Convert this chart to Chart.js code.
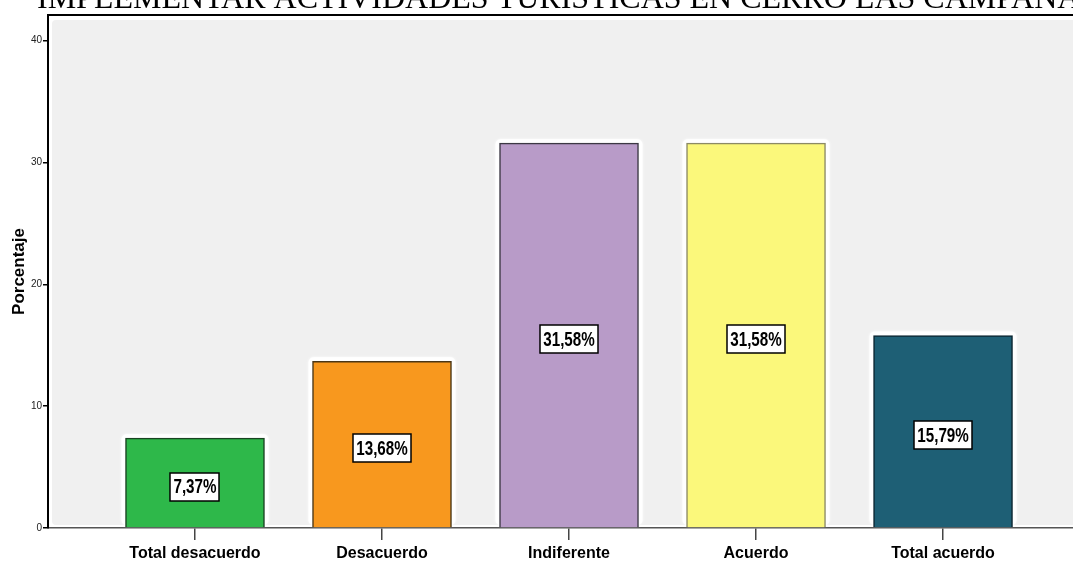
<!DOCTYPE html>
<html>
<head>
<meta charset="utf-8">
<script src="https://cdn.jsdelivr.net/npm/chart.js@4/dist/chart.umd.min.js"></script>
<style>
  html, body { margin: 0; padding: 0; background: #fff; overflow: hidden; }
  #wrap { width: 1073px; height: 561px; position: relative; }
</style>
</head>
<body>
<div id="wrap"><canvas id="chart" width="1073" height="561"></canvas></div>
<script>
const categories = ["Total desacuerdo", "Desacuerdo", "Indiferente", "Acuerdo", "Total acuerdo"];
const percentages = [7.37, 13.68, 31.58, 31.58, 15.79];
const valueLabels = ["7,37%", "13,68%", "31,58%", "31,58%", "15,79%"];
const barColors = ["#2eb84a", "#f8981e", "#b89bc8", "#fbf87b", "#1e5f75"];
const barBorders = ["#1a4322", "#4a3616", "#3c3844", "#8c8a66", "#0b2530"];
const yTicks = [0, 10, 20, 30, 40];
const titleText = "IMPLEMENTAR ACTIVIDADES TURISTICAS EN CERRO LAS CAMPANAS";

const sans = "'Liberation Sans', Arial, sans-serif";

// SPSS style frame: grey plot area, black top line, white halos around bars
const framePlugin = {
  id: "frame",
  beforeDraw(chart) {
    const { ctx, chartArea: a } = chart;
    ctx.save();
    ctx.fillStyle = "#ffffff";
    ctx.fillRect(0, 0, chart.width, chart.height);
    ctx.fillStyle = "#f0f0f0";
    ctx.beginPath();
    ctx.roundRect(a.left + 4, a.top + 5, a.right - a.left, a.bottom - a.top - 8, 4);
    ctx.fill();
    ctx.strokeStyle = "#000";
    ctx.lineWidth = 2;
    ctx.beginPath();
    ctx.moveTo(a.left - 1, a.top);
    ctx.lineTo(a.right, a.top);
    ctx.stroke();
    ctx.restore();
  },
  beforeDatasetsDraw(chart) {
    const { ctx } = chart;
    ctx.save();
    ctx.fillStyle = "#ffffff";
    ctx.shadowColor = "rgba(255,255,255,0.9)";
    ctx.shadowBlur = 3;
    chart.getDatasetMeta(0).data.forEach(bar => {
      const w = bar.width;
      ctx.beginPath();
      ctx.roundRect(bar.x - w / 2 - 4, bar.y - 4, w + 8, bar.base - bar.y + 2, 5);
      ctx.fill();
    });
    ctx.restore();
  },
  afterDatasetsDraw(chart) {
    const { ctx } = chart;
    ctx.save();
    ctx.font = "bold 19px " + sans;
    ctx.textBaseline = "middle";
    chart.getDatasetMeta(0).data.forEach((bar, i) => {
      const txt = valueLabels[i];
      const cy = (bar.y + bar.base) / 2 + 4;
      const squeeze = 0.8;
      const tw = ctx.measureText(txt).width * squeeze + 6;
      const th = 28;
      const bx = Math.round(bar.x - tw / 2);
      const by = Math.round(cy - th / 2);
      ctx.fillStyle = "#fff";
      ctx.fillRect(bx, by, Math.round(tw), th);
      ctx.strokeStyle = "#000";
      ctx.lineWidth = 1.5;
      ctx.strokeRect(bx, by, Math.round(tw), th);
      ctx.save();
      ctx.translate(bar.x, cy + 1);
      ctx.scale(squeeze, 1.08);
      ctx.textAlign = "center";
      ctx.fillStyle = "#000";
      ctx.fillText(txt, 0, 0);
      ctx.restore();
    });
    ctx.restore();
  },
  afterDraw(chart) {
    const { ctx } = chart;
    ctx.save();
    ctx.fillStyle = "#000";
    ctx.font = "32px 'Liberation Serif', 'Times New Roman', serif";
    ctx.textBaseline = "alphabetic";
    ctx.fillText(titleText, 37, 8);
    ctx.restore();
  }
};

new Chart(document.getElementById("chart"), {
  type: "bar",
  data: {
    datasets: [{
      data: percentages.map((v, i) => ({ x: i, y: v })),
      backgroundColor: barColors,
      borderColor: barBorders,
      borderWidth: 1.5,
      barThickness: 139
    }]
  },
  options: {
    responsive: false,
    animation: false,
    layout: { padding: { top: 15, right: 0, left: 0, bottom: 0 } },
    plugins: { legend: { display: false }, tooltip: { enabled: false } },
    scales: {
      x: {
        type: "linear",
        offset: false,
        min: -0.786,
        max: 4.695,
        afterFit: s => { s.height = 33; },
        afterBuildTicks: s => { s.ticks = categories.map((_, i) => ({ value: i })); },
        grid: { offset: false, drawOnChartArea: false, color: "#444", lineWidth: 1.5, tickLength: 12 },
        border: { color: "#555", width: 1.5 },
        ticks: {
          autoSkip: false,
          maxRotation: 0,
          padding: 4,
          color: "#000",
          font: { family: sans, size: 16, weight: "bold" },
          callback: v => categories[v]
        }
      },
      y: {
        min: 0,
        max: 42.1,
        afterFit: s => { s.width = 48; },
        afterBuildTicks: s => { s.ticks = yTicks.map(v => ({ value: v })); },
        grid: { drawOnChartArea: false, color: "#000", lineWidth: 1.5, tickLength: 5 },
        border: { color: "#000", width: 2 },
        ticks: {
          padding: 1,
          color: "#222",
          font: { family: sans, size: 10 }
        },
        title: {
          display: true,
          text: "Porcentaje",
          color: "#000",
          padding: { top: 9, bottom: 0 },
          font: { family: sans, size: 17, weight: "bold" }
        }
      }
    }
  },
  plugins: [framePlugin]
});
</script>
</body>
</html>
